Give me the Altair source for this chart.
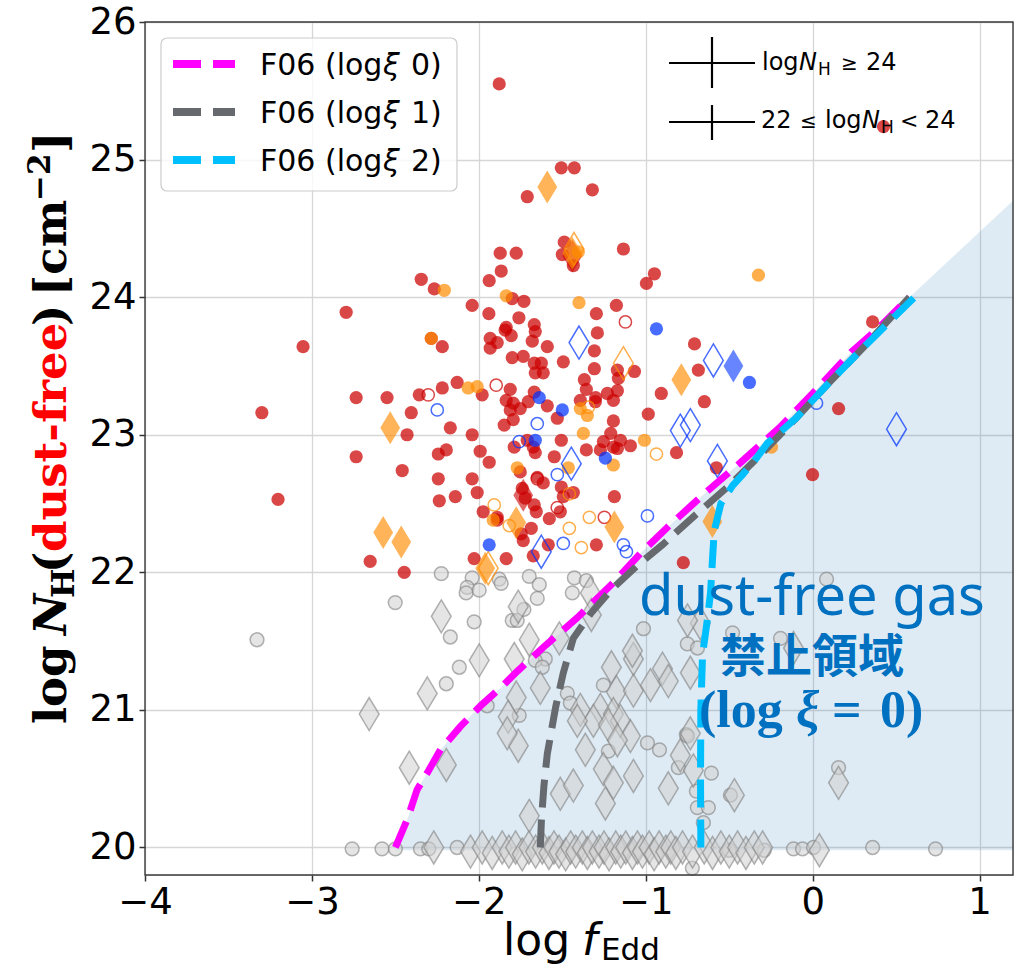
import altair as alt
import pandas as pd

# ---------------- data ----------------
x_ticks = [-4, -3, -2, -1, 0, 1]
y_ticks = [20, 21, 22, 23, 24, 25, 26]

# F06 curves
f0_x = [-2.5, -2.43, -2.37, -2.31, -2.23, -2.11, -1.99, -1.87, -1.77, -1.6, -1.41, -1.19, -1.03, -0.85, -0.65, -0.43, -0.2, 0.0, 0.23, 0.39, 0.58]
f0_y = [20.0, 20.2, 20.42, 20.54, 20.71, 20.88, 21.03, 21.16, 21.28, 21.47, 21.67, 21.93, 22.14, 22.35, 22.57, 22.8, 23.05, 23.3, 23.6, 23.77, 24.0]
f1_x = [-1.632, -1.625, -1.61, -1.59, -1.565, -1.54, -1.494, -1.434, -1.33, -1.21, -1.05, -0.9, -0.7, -0.5, -0.3, -0.1, 0.1, 0.3, 0.58]
f1_y = [20.0, 20.2, 20.45, 20.68, 20.85, 21.02, 21.27, 21.52, 21.7, 21.87, 22.05, 22.2, 22.42, 22.63, 22.87, 23.12, 23.38, 23.63, 24.0]
f2_x = [-0.67, -0.672, -0.67, -0.66, -0.635, -0.612, -0.6, -0.59, -0.55, -0.48, -0.42, -0.35, -0.27, -0.1, 0.1, 0.3, 0.61]
f2_y = [20.0, 20.5, 21.0, 21.4, 21.62, 21.85, 22.1, 22.3, 22.5, 22.63, 22.71, 22.81, 22.94, 23.12, 23.38, 23.63, 24.0]
shade_x = f0_x + [1.2]
shade_y = f0_y + [24.7]
shade_floor = 19.98

# red filled circles
red_x = [-1.878, -1.506, -1.428, -1.71, -1.32, -1.488, -1.5, -1.434, -1.134, -1.872, -1.776, -1.866, -1.938, -2.345, -2.267,
         -2.04, -1.94, -1.76, -1.80, -1.73, -2.795, -1.296, -1.176, -1.836, -1.668, 0.424, -0.948, -0.996, 0.359,
         -1.662, -1.842, -1.806, -1.932, -1.89, -1.932, -1.68, -1.59, -2.219, -2.285, -1.80, -1.734, -1.494, -1.668, -1.626,
         -1.662, -1.614, -1.29, -1.308, -1.308, -1.17, -1.068, -1.164, -1.368, -1.356, -1.23, -1.17, -2.13, -2.219, -2.357,
         -1.812, -1.668, -1.30, -2.55,
         -3.053, -3.30, -3.203, -2.735, -2.405, -2.43, -2.735, -2.459, -2.651, -2.447, -1.98, -2.171, -2.04, -2.243, -2.195,
         -1.992, -1.938, -2.243, -2.04, -2.237, -2.141, -2.01, -1.974, -1.89, -2.028, -1.836,
         -1.848, -1.794, -1.812, -1.836, -1.794, -1.752, -1.704, -1.59, -1.53, -1.788, -1.71, -1.674, -1.662, -1.548, -1.506,
         -1.392, -1.302, -1.194, -1.194, -1.21, -1.254, -1.152, -1.194, -1.272, -1.17, -1.092, -1.356, -0.985, -1.752, -1.65,
         -1.614, -1.74, -1.506, -1.434, -1.494, -1.188, -1.722, -1.668, -1.656, -1.578, -1.512, -1.686, -1.734, -1.584, -1.296,
         -1.674, -1.746, -1.89,
         -0.708, -0.685, -0.907, -0.649, -0.816, -0.577, -0.775, 0.155, -0.001]
red_y = [25.55, 24.94, 24.94, 24.73, 24.78, 24.40, 24.31, 24.23, 24.35, 24.32, 24.32, 24.19, 24.12, 24.13, 24.06,
         23.94, 23.88, 23.85, 23.99, 23.97, 23.89, 23.88, 23.94, 23.78, 23.80, 25.24, 24.17, 24.10, 23.82,
         23.75, 23.76, 23.72, 23.70, 23.67, 23.63, 23.68, 23.64, 23.64, 23.70, 23.56, 23.57, 23.53, 23.52, 23.52,
         23.45, 23.45, 23.74, 23.61, 23.48, 23.47, 23.46, 23.41, 23.40, 23.33, 23.30, 23.32, 23.38, 23.34, 23.29,
         23.33, 23.31, 23.27, 23.27,
         23.64, 23.16, 22.53, 23.27, 23.16, 23.00, 22.84, 22.74, 22.08, 22.00, 23.29, 23.05, 23.00, 22.86, 22.89,
         22.88, 22.80, 22.68, 22.68, 22.52, 22.55, 22.58, 22.44, 22.40, 22.10, 22.10,
         23.07, 23.11, 23.18, 23.25, 23.23, 23.19, 23.24, 23.21, 23.12, 22.91, 22.96, 22.91, 22.87, 22.84, 22.96,
         23.25, 23.24, 23.25, 23.10, 23.01, 22.95, 22.96, 22.91, 22.89, 22.90, 22.92, 22.89, 23.15, 22.73, 22.69,
         22.65, 22.61, 22.62, 22.58, 22.55, 22.55, 22.54, 22.49, 22.44, 22.39, 22.44, 22.32, 22.23, 22.20, 22.20,
         22.12, 22.28, 22.38,
         23.66, 23.47, 23.30, 23.24, 22.87, 22.76, 22.07, 23.19, 22.71]
red_open_x = [-1.122, -1.896, -2.303, -1.65, -1.248, -1.53]
red_open_y = [23.82, 23.36, 23.29, 22.68, 22.40, 22.47]
red_dia_x = [-1.44, -1.734]
red_dia_y = [24.30, 22.56]

# orange
org_x = [-2.207, -1.836, -1.40, -1.404, -0.325, -2.285, -2.064, -2.01, -1.464, -1.374, -1.194, -1.008, -1.392, -1.35, -1.77, -1.914, -0.247]
org_y = [24.05, 24.01, 23.96, 24.33, 24.16, 23.70, 23.34, 23.35, 22.76, 23.01, 22.78, 22.96, 23.19, 23.14, 22.76, 22.38, 22.91]
org_dia_x = [-1.59, -1.44, -2.531, -2.573, -2.465, -1.776, -1.962, -1.188, -0.787, -0.601]
org_dia_y = [24.80, 24.32, 23.05, 22.29, 22.22, 22.36, 22.03, 22.33, 23.40, 22.37]
org_open_x = [-1.344, -1.908, -1.818, -1.458, -1.338, -1.386, -1.458, -0.936]
org_open_y = [23.20, 22.49, 22.34, 22.32, 22.40, 22.18, 22.57, 22.86]
org_odia_x = [-1.134, -1.944, -1.43]
org_odia_y = [23.52, 22.03, 24.35]

# blue
blu_x = [-0.936, -1.638, -1.50, -1.662, -1.242, -1.938, -0.379]
blu_y = [23.77, 23.27, 23.18, 22.96, 22.83, 22.20, 23.38]
blu_open_x = [-2.249, -1.65, -1.758, -1.53, -1.494, -1.134, -1.116, -0.99, 0.023]
blu_open_y = [23.18, 23.08, 22.95, 22.71, 22.21, 22.20, 22.15, 22.41, 23.23]
blu_odia_x = [-1.40, -1.446, -1.626, -0.595, -0.793, -0.733, -0.571, 0.502]
blu_odia_y = [23.67, 22.79, 22.15, 23.54, 23.03, 23.07, 22.81, 23.04]
blu_dia_x = [-0.475]
blu_dia_y = [23.50]

# grey (upper limits)
gc_x = [-2.225, -2.04, -2.07, -2.076, -1.998, -1.878, -1.866, -1.698, -1.638, -1.65, -1.428, -1.356, -1.44, -2.501, -2.028,
        -2.171, -1.80, -1.77, -1.73, -3.329, -2.117, -2.195, -1.014, -1.602, -1.662, -1.62, -1.95, -1.758, -1.47, -1.452,
        -1.254, -0.99, -0.918, -1.224, -0.757, -0.805, -0.607, -0.697, -0.691, -0.625, -0.655, -0.493, -0.721, -0.751, -0.69,
        -0.75, 0.155, 0.083, -0.48, -0.193,
        -2.759, -2.58, -2.5, -2.35, -2.30, -2.13, -0.115, -0.061, 0.005, 0.359, 0.736, -0.29, -0.5]
gc_y = [21.99, 21.96, 21.89, 21.85, 21.87, 21.95, 21.92, 21.97, 21.91, 21.81, 21.96, 21.94, 21.85, 21.78, 21.64,
        21.53, 21.65, 21.65, 21.73, 21.51, 21.31, 21.19, 21.59, 21.37, 21.36, 21.31, 21.03, 20.96, 21.12, 21.05,
        21.18, 20.76, 20.71, 20.70, 20.82, 20.58, 20.54, 20.41, 20.29, 20.29, 20.18, 20.38, 19.85, 21.48, 21.45,
        20.81, 20.58, 21.95, 21.56, 21.52,
        19.99, 19.99, 19.99, 19.99, 19.99, 20.0, 19.99, 19.99, 20.0, 20.0, 19.99, 19.98, 19.98]
gd_x = [-2.225, -1.764, -1.998, -2.309, -2.657, -1.698, -1.788, -1.518, -1.332, -1.326, -1.632, -1.776, -1.824, -1.206, -1.074,
        -1.08, -1.176, -1.074, -0.972, -1.392, -1.272, -1.314, -1.41, -1.194, -1.152, -1.224, -2.417, -2.195, -1.764, -1.83,
        -1.698, -1.512, -1.434, -1.362, -1.242, -1.254, -1.194, -1.074, -1.092, -1.17, -0.865, -0.793, -0.733, -0.469, -0.715,
        0.155, -0.9, -0.865, -0.733, -0.673, -0.75, -0.115]
gd_y = [21.68, 21.75, 21.36, 21.12, 20.97, 21.51, 21.37, 21.52, 21.85, 21.69, 21.16, 21.09, 20.95, 21.31, 21.37,
        21.43, 21.13, 21.14, 21.18, 21.0, 21.0, 20.92, 20.92, 20.97, 20.92, 20.89, 20.58, 20.60, 20.74, 20.83,
        20.23, 20.39, 20.45, 20.71, 20.32, 20.57, 20.47, 20.52, 20.81, 20.78, 20.43, 20.67, 20.83, 20.38, 20.56,
        20.47, 21.30, 21.21, 21.27, 21.63, 21.65, 21.45]
gb_x = [-2.27, -2.05, -1.98, -1.92, -1.86, -1.82, -1.78, -1.74, -1.70, -1.66, -1.62, -1.58, -1.55, -1.52, -1.48, -1.45,
        -1.42, -1.38, -1.35, -1.32, -1.28, -1.25, -1.22, -1.18, -1.15, -1.12, -1.08, -1.05, -1.02, -0.98, -0.95, -0.92,
        -0.88, -0.85, -0.82, -0.78, -0.72, -0.65, -0.60, -0.55, -0.50, -0.45, -0.40, -0.35, -0.30, 0.04]
gb_y = [20.0, 19.97, 20.0, 19.96, 20.0, 19.97, 20.0, 19.95, 20.0, 19.97, 20.0, 19.96, 20.0, 19.97, 19.95, 20.0,
        19.97, 20.0, 19.96, 20.0, 19.97, 20.0, 19.95, 20.0, 19.97, 20.0, 19.96, 20.0, 19.97, 20.0, 19.95, 20.0,
        19.97, 20.0, 19.96, 20.0, 19.97, 20.0, 19.96, 20.0, 19.97, 20.0, 19.96, 20.0, 20.0, 19.98]

legend_levels = ["0", "1", "2"]
line_colors = ["#ff00ff", "#666a6e", "#00bfff"]

# ---------------- chart ----------------
PW, PH = 868, 853
L, T = 145, 22
TOTAL_W, TOTAL_H = 1018, 966
DIAMOND = "M0,-1L0.6,0L0,1L-0.6,0Z"

xsc = alt.Scale(domain=[-4, 1.2], nice=False, zero=False)
ysc = alt.Scale(domain=[19.8, 26], nice=False, zero=False)
common_ax = dict(title=None, format="d", labelFontSize=37, labelFont="DejaVu Sans", labelColor="black",
                 tickSize=6, tickColor="#333333", tickWidth=1.5, grid=True, gridColor="#d6d6d6",
                 gridWidth=1.3, domain=False, labelFlush=False)
X = alt.X("x:Q", scale=xsc, axis=alt.Axis(values=x_ticks, labelPadding=3, **common_ax))
Y = alt.Y("y:Q", scale=ysc, axis=alt.Axis(values=y_ticks, labelPadding=3, **common_ax))


def df(xl, yl):
    return pd.DataFrame({"x": xl, "y": yl, "i": list(range(len(xl)))})


def pts(xl, yl, shape, size, filled, color, op, sw=1.5, stroke=None):
    if filled:
        m = alt.Chart(df(xl, yl)).mark_point(shape=shape, size=size, filled=True, fill=color, fillOpacity=op,
                                             stroke=stroke if stroke else color,
                                             strokeOpacity=op if stroke is None else 0.6,
                                             strokeWidth=0 if stroke is None else sw)
    else:
        m = alt.Chart(df(xl, yl)).mark_point(shape=shape, size=size, filled=False, stroke=color,
                                             strokeOpacity=op, strokeWidth=sw, fillOpacity=0)
    return m.encode(x=X, y=Y)


one = pd.DataFrame({"a": [0]})


def txt(s, px, py, size, font="DejaVu Sans", color="black", weight="normal", style="normal",
        align="left", angle=0):
    return alt.Chart(one).mark_text(text=s, font=font, fontSize=size, color=color, fontWeight=weight,
                                    fontStyle=style, align=align, baseline="alphabetic", angle=angle).encode(
        x=alt.value(px - L), y=alt.value(py - T))


def rule(x1, x2, y1, y2=None, color="black", width=2, dash=None):
    kw = dict(color=color, strokeWidth=width)
    if dash:
        kw["strokeDash"] = dash
    enc = dict(x=alt.value(x1 - L), y=alt.value(y1 - T))
    if x2 is not None:
        enc["x2"] = alt.value(x2 - L)
    if y2 is not None:
        enc["y2"] = alt.value(y2 - T)
    return alt.Chart(one).mark_rule(**kw).encode(**enc)


layers = []
# shaded forbidden region
layers.append(alt.Chart(df(shade_x, shade_y)).mark_area(color="#1f77b4", opacity=0.15).encode(
    x=X, y=Y, y2=alt.datum(shade_floor)))

GREY_F, GREY_S = "#d0d0d0", "#808080"
layers.append(pts(gc_x, gc_y, "circle", 190, True, GREY_F, 0.55, 1.5, GREY_S))
layers.append(pts(gd_x, gd_y, DIAMOND, 1089, True, GREY_F, 0.55, 1.5, GREY_S))
layers.append(pts(gb_x, gb_y, DIAMOND, 1089, True, GREY_F, 0.55, 1.5, GREY_S))

RED, ORG, BLU = "#cc0000", "#ff8c00", "#0033ff"
layers.append(pts(red_x, red_y, "circle", 175, True, RED, 0.72))
layers.append(pts(red_open_x, red_open_y, "circle", 150, False, RED, 0.72))
layers.append(pts(red_dia_x, red_dia_y, DIAMOND, 1089, True, RED, 0.6))
layers.append(pts(org_x, org_y, "circle", 175, True, ORG, 0.7))
layers.append(pts(org_dia_x, org_dia_y, DIAMOND, 1089, True, ORG, 0.65))
layers.append(pts(org_open_x, org_open_y, "circle", 150, False, ORG, 0.7))
layers.append(pts(org_odia_x, org_odia_y, DIAMOND, 1089, False, ORG, 0.7))
layers.append(pts(blu_x, blu_y, "circle", 175, True, BLU, 0.72))
layers.append(pts(blu_open_x, blu_open_y, "circle", 150, False, BLU, 0.72))
layers.append(pts(blu_odia_x, blu_odia_y, DIAMOND, 1089, False, BLU, 0.72))
layers.append(pts(blu_dia_x, blu_dia_y, DIAMOND, 1089, True, BLU, 0.6))

# F06 curves
for cx, cy, col in [(f0_x, f0_y, line_colors[0]), (f1_x, f1_y, line_colors[1]), (f2_x, f2_y, line_colors[2])]:
    layers.append(alt.Chart(df(cx, cy)).mark_line(color=col, strokeWidth=7, strokeDash=[28, 12]).encode(
        x=X, y=Y, order=alt.Order("i:Q")))

# plot frame
layers.append(alt.Chart(one).mark_rect(fill=None, fillOpacity=0, stroke="#3a3a3a", strokeWidth=1.4).encode(
    x=alt.value(0), x2=alt.value(PW), y=alt.value(0), y2=alt.value(PH)))

# legend (top-left)
layers.append(alt.Chart(one).mark_rect(fill="white", fillOpacity=0.8, stroke="#cccccc", strokeWidth=1.2,
                                       cornerRadius=6).encode(
    x=alt.value(161 - L), x2=alt.value(457 - L), y=alt.value(38 - T), y2=alt.value(191 - T)))
for k, (lev, col) in enumerate(zip(legend_levels, line_colors)):
    yy = 64 + 48 * k
    layers.append(rule(173, 235, yy, color=col, width=8, dash=[28, 12]))
    layers.append(txt("F06 (log", 260, yy + 11, 30))
    layers.append(txt("ξ", 383, yy + 11, 30, style="italic"))
    layers.append(txt(lev + ")", 411, yy + 11, 30))

# legend (top-right) error-bar crosses
layers.append(rule(669, 755, 63, width=2.2))
layers.append(rule(712, None, 37, 88, width=2.2))
layers.append(rule(669, 755, 122, width=2.2))
layers.append(rule(712, None, 105, 140, width=2.2))
layers.append(txt("log", 762, 70, 24))
layers.append(txt("N", 799, 70, 24, style="italic"))
layers.append(txt("H", 818, 75, 17))
layers.append(txt("≥", 841, 70, 20))
layers.append(txt("24", 866, 70, 24))
layers.append(txt("22", 761, 128, 24))
layers.append(txt("≤", 800, 128, 20))
layers.append(txt("log", 825, 128, 24))
layers.append(txt("N", 862, 128, 24, style="italic"))
layers.append(txt("H", 881, 133, 17))
layers.append(txt("<", 900, 128, 22))
layers.append(txt("24", 925, 128, 24))

# annotation
ANN = "#0070c0"
layers.append(txt("dust-free gas", 812, 615, 56, font="Noto Sans", color=ANN, align="center"))
layers.append(txt("禁止領域", 812, 672, 46, font="Noto Sans CJK JP", color=ANN, weight="bold", align="center"))
layers.append(txt("(log", 699, 727, 52, font="Liberation Serif", color=ANN, weight="bold"))
layers.append(txt("ξ", 796, 727, 52, font="Liberation Serif", color=ANN, weight="bold", style="italic"))
layers.append(txt("=", 832, 727, 52, font="Liberation Serif", color=ANN, weight="bold"))
layers.append(txt("0)", 880, 727, 52, font="Liberation Serif", color=ANN, weight="bold"))

# y-axis title (rotated pieces)
SER = "DejaVu Serif"
BX = 66
FS, FSS = 45, 31
layers.append(txt("log", BX, 724, FS, font=SER, weight="bold", angle=270))
layers.append(txt("N", BX, 635, FS, font=SER, weight="bold", style="italic", angle=270))
layers.append(txt("H", BX + 8, 598, FSS, font=SER, weight="bold", angle=270))
layers.append(txt("(", BX, 573, FS, font=SER, weight="bold", angle=270))
layers.append(txt("dust-free", BX, 552, FS, font=SER, weight="bold", color="#ff0000", angle=270))
layers.append(txt(")", BX, 326, FS, font=SER, weight="bold", angle=270))
layers.append(txt("[cm", BX, 296, FS, font=SER, weight="bold", angle=270))
layers.append(txt("−2", BX - 16, 201, FSS, font=SER, weight="bold", angle=270))
layers.append(txt("]", BX, 153, FS, font=SER, weight="bold", angle=270))

# x-axis title
layers.append(txt("log", 503, 955, 44))
layers.append(txt("f", 582, 955, 44, style="italic"))
layers.append(txt("Edd", 601, 960, 31))

chart = alt.layer(*layers).properties(
    width=PW, height=PH,
    padding={"left": L, "top": T, "right": TOTAL_W - L - PW, "bottom": TOTAL_H - T - PH},
    autosize=alt.AutoSizeParams(type="none"),
).configure_view(stroke=None).configure(background="white")

chart.save("out.html", embed_options={"renderer": "svg", "actions": False})
